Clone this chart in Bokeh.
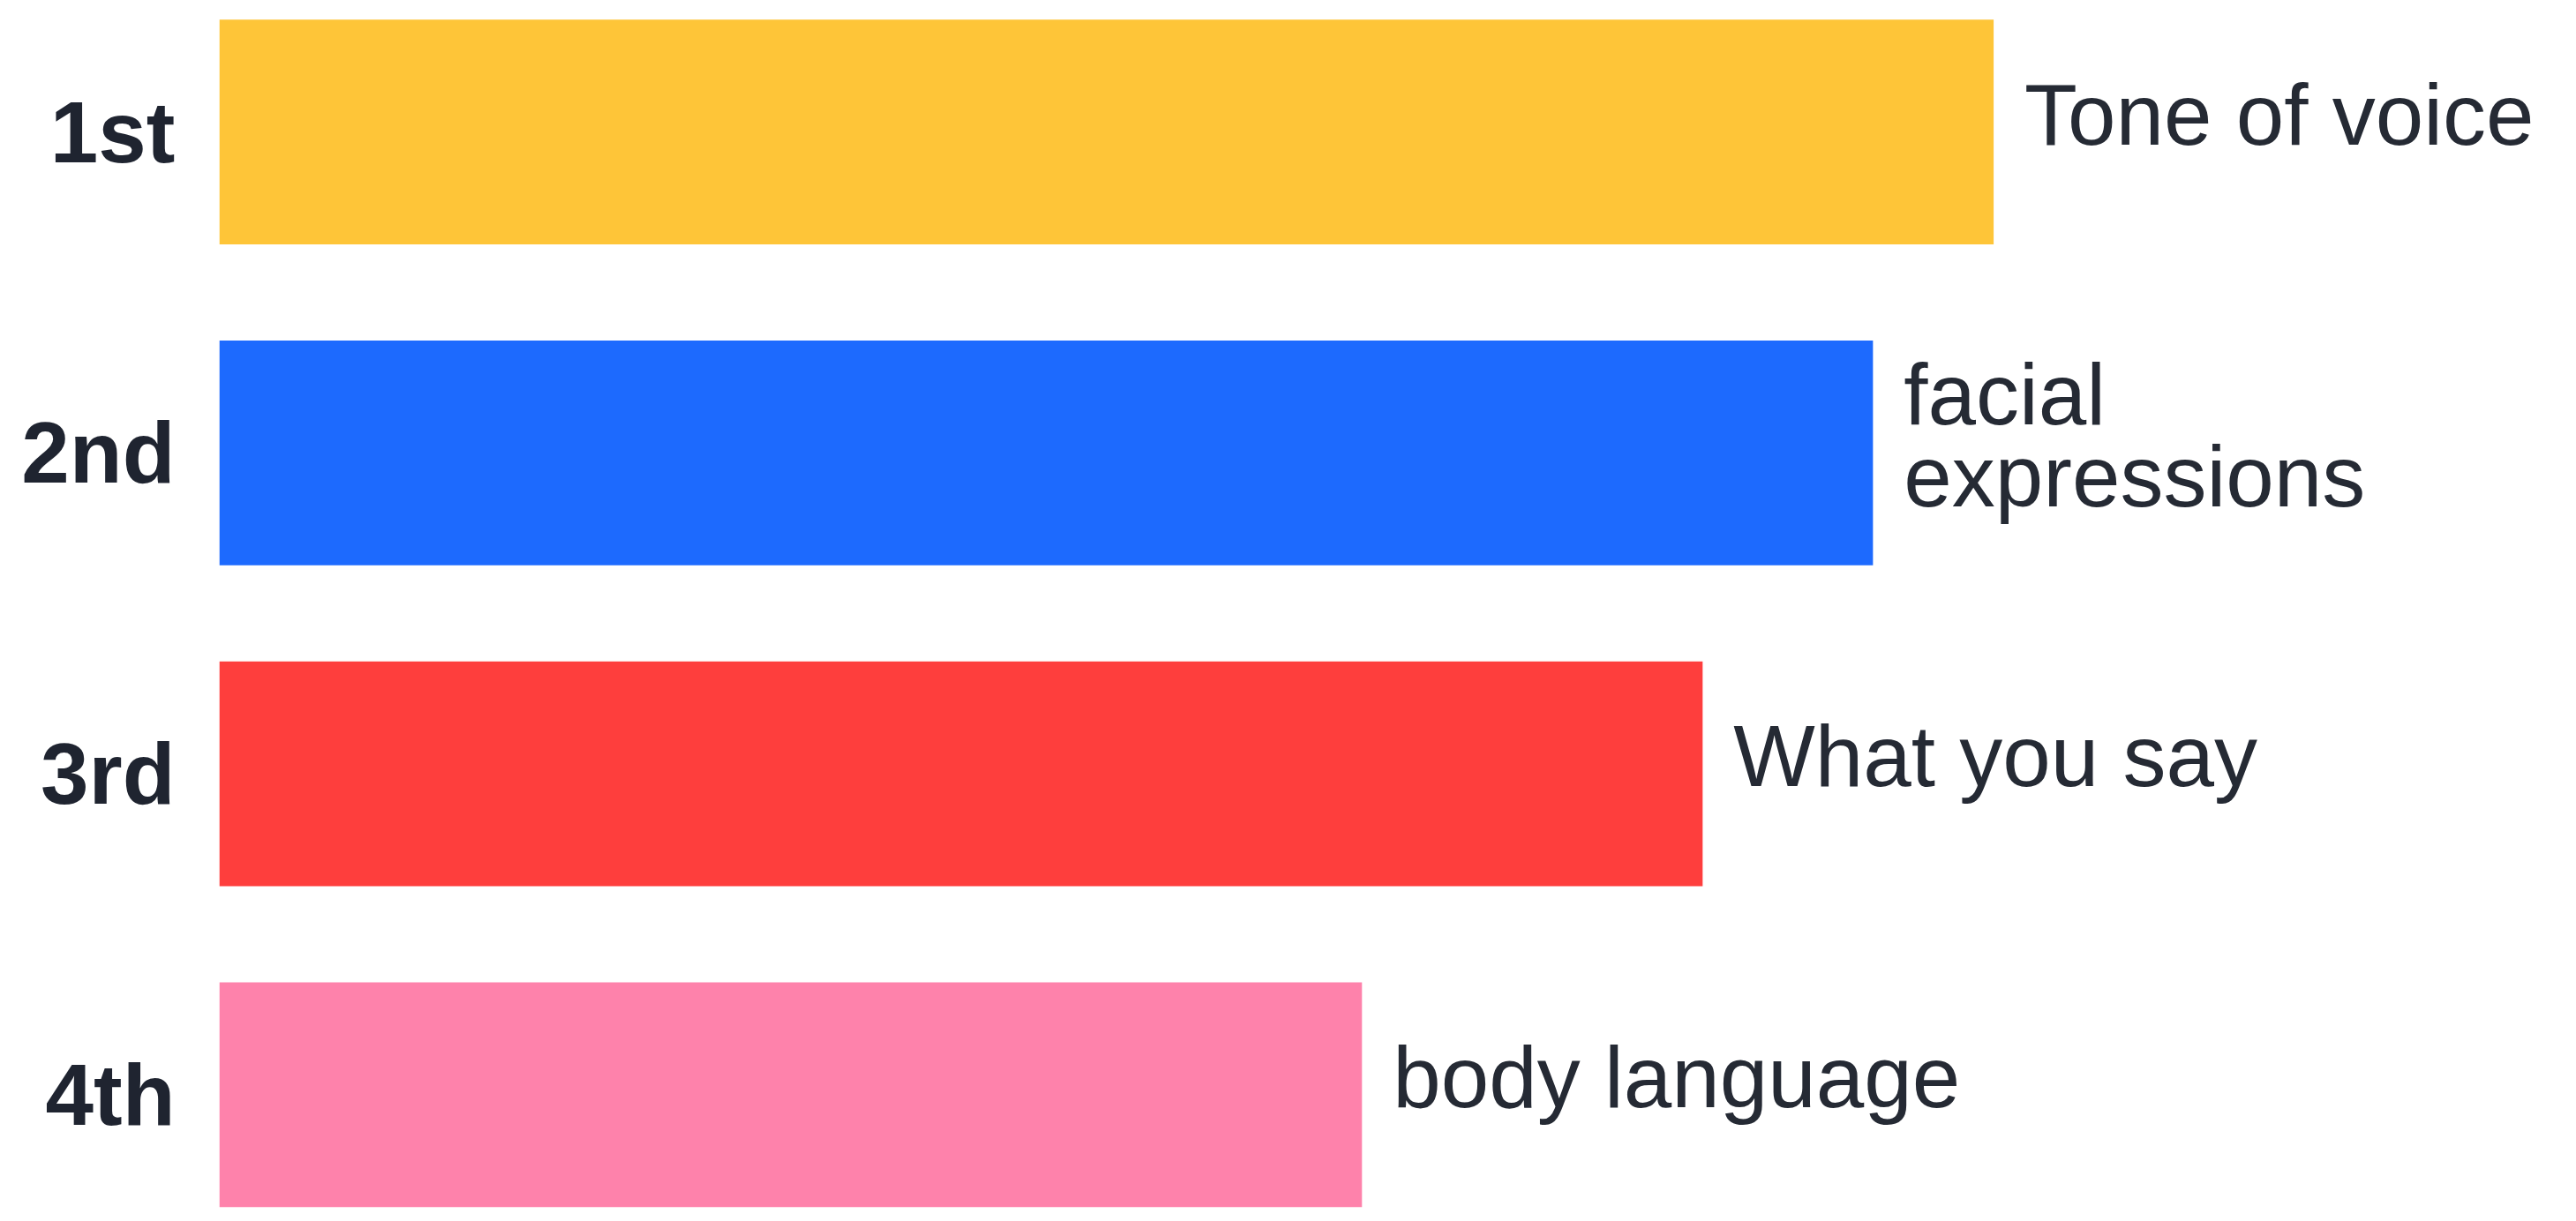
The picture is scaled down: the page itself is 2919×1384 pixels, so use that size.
from bokeh.plotting import figure
from bokeh.models import Range1d, FixedTicker, ColumnDataSource
from bokeh.core.properties import value
from bokeh.embed import file_html
from bokeh.resources import INLINE

ranks = [1, 2, 3, 4]
rank_labels = ["1st", "2nd", "3rd", "4th"]
categories = ["Tone of voice", "facial\nexpressions", "What you say", "body language"]
values = [100.0, 93.2, 83.6, 64.4]
colors = ["#FEC538", "#1D6AFE", "#FE3E3D", "#FE82AB"]

src = ColumnDataSource(dict(y=ranks, v=values, c=colors, t=categories))

p = figure(width=2908, height=1376, output_backend="svg", toolbar_location=None,
           x_range=Range1d(0, 132.3), y_range=Range1d(4.373, 0.612),
           min_border_left=248, min_border_right=0, min_border_top=8, min_border_bottom=0)

p.hbar(y="y", left=0, right="v", height=0.70, fill_color="c", line_color=None, source=src)
p.text(x="v", y="y", text="t", source=src, x_offset=35, y_offset=-20,
       text_font=value("Liberation Sans"), text_font_size="98px", text_color="#252A34",
       text_baseline="middle", text_align="left", text_line_height=0.84)

p.xaxis.visible = False
p.yaxis.ticker = FixedTicker(ticks=ranks)
p.yaxis.major_label_overrides = {r: l for r, l in zip(ranks, rank_labels)}
p.yaxis.major_label_text_font = "Liberation Sans"
p.yaxis.major_label_text_font_style = "bold"
p.yaxis.major_label_text_font_size = "98px"
p.yaxis.major_label_text_color = "#1F2430"
p.yaxis.major_label_standoff = 44
p.yaxis.axis_line_color = None
p.yaxis.major_tick_line_color = None
p.yaxis.minor_tick_line_color = None
p.xgrid.visible = False
p.ygrid.visible = False
p.outline_line_color = None
p.background_fill_color = "white"
p.border_fill_color = "white"

open("out.html", "w").write(file_html(p, INLINE))
